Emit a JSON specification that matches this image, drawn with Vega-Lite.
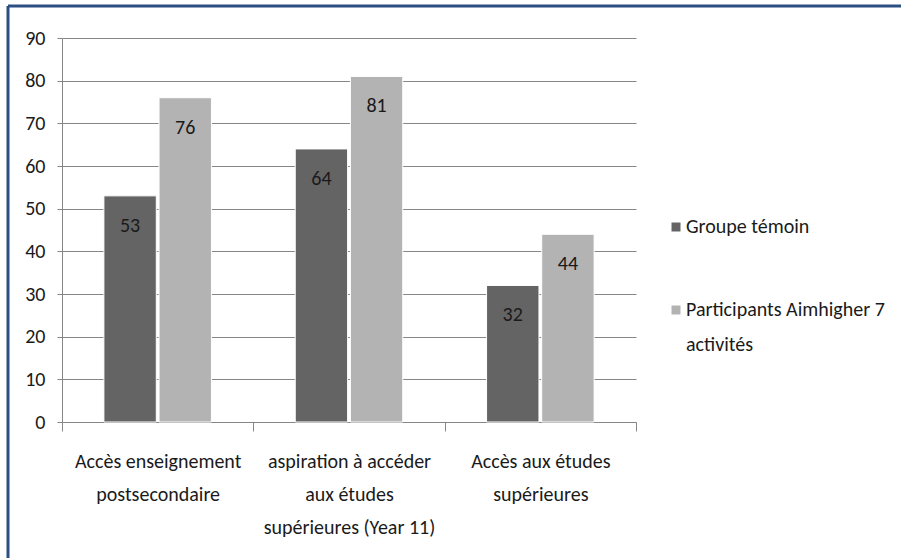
{
  "$schema": "https://vega.github.io/schema/vega-lite/v6.json",
  "autosize": {"type": "none"},
  "width": 893,
  "height": 552,
  "padding": {"left": 8, "top": 6, "right": 0, "bottom": 0},
  "background": "white",
  "config": {
    "view": {"stroke": "#2b4f81", "strokeWidth": 3, "strokeDash": [893, 1445, 552, 0]},
    "font": "Carlito, Lato, sans-serif",
    "text": {"font": "Carlito, Lato, sans-serif"},
    "style": {"guide-label": {"lineHeight": 35}}
  },
  "data": {
    "values": [
      {"categorie": "Accès enseignement postsecondaire", "groupe": "Groupe témoin", "valeur": 53},
      {"categorie": "Accès enseignement postsecondaire", "groupe": "Participants Aimhigher 7 activités", "valeur": 76},
      {"categorie": "aspiration à accéder aux études supérieures (Year 11)", "groupe": "Groupe témoin", "valeur": 64},
      {"categorie": "aspiration à accéder aux études supérieures (Year 11)", "groupe": "Participants Aimhigher 7 activités", "valeur": 81},
      {"categorie": "Accès aux études supérieures", "groupe": "Groupe témoin", "valeur": 32},
      {"categorie": "Accès aux études supérieures", "groupe": "Participants Aimhigher 7 activités", "valeur": 44}
    ]
  },
  "encoding": {
    "x": {
      "field": "categorie",
      "type": "nominal",
      "sort": null,
      "scale": {"range": [54, 628], "paddingInner": 0, "paddingOuter": 0},
      "axis": {
        "title": null,
        "offset": -136,
        "labelAngle": 0,
        "labelFontSize": 20,
        "labelColor": "#1a1a1a",
        "labelLineHeight": 33,
        "labelPadding": 20,
        "labelLimit": 0,
        "domainColor": "#868686",
        "tickColor": "#868686",
        "tickSize": 9,
        "tickBand": "extent",
        "grid": false,
        "labelExpr": "datum.label == 'Accès enseignement postsecondaire' ? ['Accès enseignement', 'postsecondaire'] : datum.label == 'Accès aux études supérieures' ? ['Accès aux études', 'supérieures'] : datum.label == 'aspiration à accéder aux études supérieures (Year 11)' ? ['aspiration à accéder', 'aux études', 'supérieures (Year 11)'] : ''"
      }
    },
    "xOffset": {
      "field": "groupe",
      "type": "nominal",
      "sort": ["Groupe témoin", "Participants Aimhigher 7 activités"],
      "scale": {"paddingInner": 0.05, "paddingOuter": 0.76}
    },
    "y": {
      "field": "valeur",
      "type": "quantitative",
      "scale": {"domain": [0, 90], "range": [416, 32], "nice": false, "zero": true},
      "axis": {
        "title": null,
        "offset": -54,
        "values": [0, 10, 20, 30, 40, 50, 60, 70, 80, 90],
        "labelFontSize": 20,
        "labelColor": "#1a1a1a",
        "labelPadding": 12,
        "tickSize": 5,
        "tickColor": "#868686",
        "domainColor": "#868686",
        "grid": true,
        "gridColor": "#868686",
        "gridWidth": 1
      }
    }
  },
  "layer": [
    {
      "mark": {"type": "bar", "stroke": "white", "strokeWidth": 1},
      "encoding": {
        "color": {
          "field": "groupe",
          "type": "nominal",
          "scale": {"domain": ["Groupe témoin", "Participants Aimhigher 7 activités"], "range": ["#646464", "#b3b3b3"]},
          "legend": {
            "title": null,
            "orient": "none",
            "legendX": 658,
            "legendY": 211,
            "padding": 0,
            "symbolType": "square",
            "symbolSize": 81,
            "symbolStrokeWidth": 0,
            "labelFontSize": 20,
            "labelColor": "#1a1a1a",
            "labelOffset": 0,
            "labelLimit": 0,
            "rowPadding": 63,
            "labelExpr": "datum.label == 'Participants Aimhigher 7 activités' ? ['Participants Aimhigher 7', 'activités'] : datum.label"
          }
        }
      }
    },
    {
      "mark": {"type": "text", "dy": 30, "baseline": "middle", "fontSize": 20, "color": "#1a1a1a"},
      "encoding": {"text": {"field": "valeur", "type": "quantitative"}}
    }
  ]
}
